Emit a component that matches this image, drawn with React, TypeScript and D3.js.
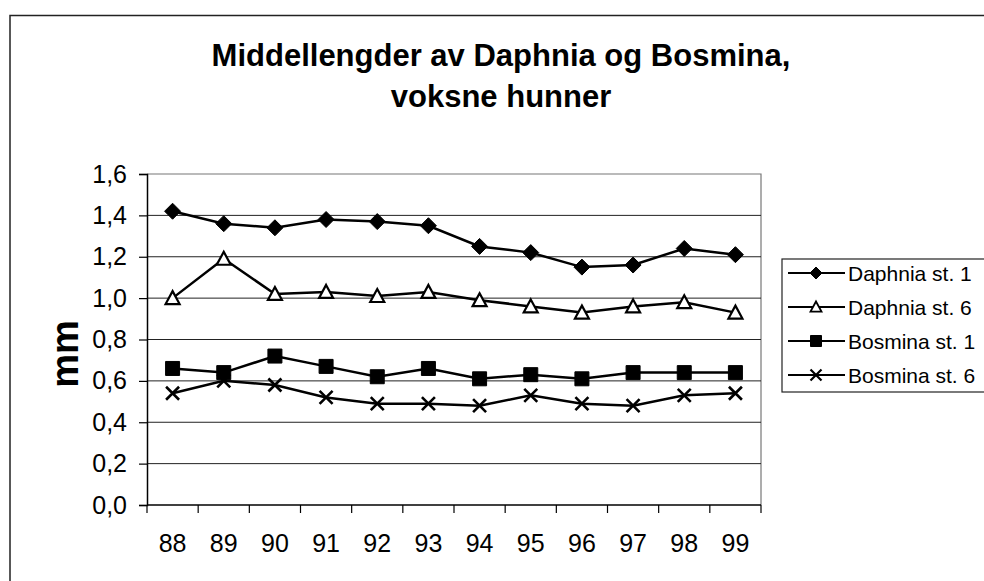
import { useEffect, useRef } from 'react';
import * as d3 from 'd3';

// Years on the x axis
const years = ['88', '89', '90', '91', '92', '93', '94', '95', '96', '97', '98', '99'];

// Series values (mm)
const daphnia1 = [1.42, 1.36, 1.34, 1.38, 1.37, 1.35, 1.25, 1.22, 1.15, 1.16, 1.24, 1.21];
const daphnia6 = [1.0, 1.19, 1.02, 1.03, 1.01, 1.03, 0.99, 0.96, 0.93, 0.96, 0.98, 0.93];
const bosmina1 = [0.66, 0.64, 0.72, 0.67, 0.62, 0.66, 0.61, 0.63, 0.61, 0.64, 0.64, 0.64];
const bosmina6 = [0.54, 0.6, 0.58, 0.52, 0.49, 0.49, 0.48, 0.53, 0.49, 0.48, 0.53, 0.54];

const seriesNames = ['Daphnia st. 1', 'Daphnia st. 6', 'Bosmina st. 1', 'Bosmina st. 6'];
const markerTypes = ['diamond', 'triangle', 'square', 'cross'];

const yTicks = [0, 0.2, 0.4, 0.6, 0.8, 1.0, 1.2, 1.4, 1.6];

const FONT = "'Liberation Sans', Arial, Helvetica, sans-serif";

// marker outline centred on 0,0
function markerPath(type: string, s: number) {
    const h = s / 2;
    if (type === 'diamond') return `M0,${-h}L${h},0L0,${h}L${-h},0Z`;
    if (type === 'square') return `M${-h},${-h}H${h}V${h}H${-h}Z`;
    if (type === 'triangle') return `M0,${-h}L${h},${h * 0.85}L${-h},${h * 0.85}Z`;
    return `M${-h},${-h}L${h},${h}M${h},${-h}L${-h},${h}`;
}

export default function App() {
    const svgRef = useRef<SVGSVGElement>(null);

    useEffect(() => {
        const W = 984;
        const H = 581;
        const svg = d3.select(svgRef.current);
        svg.selectAll('*').remove();
        svg.attr('width', W).attr('height', H).style('font-family', FONT);

        const allSeries = [daphnia1, daphnia6, bosmina1, bosmina6];

        const plot = { left: 147, right: 761, top: 174, bottom: 505 };

        const x = d3.scaleBand().domain(years).range([plot.left, plot.right]);
        const y = d3.scaleLinear().domain([0, 1.6]).range([plot.bottom, plot.top]);

        svg.append('rect').attr('width', W).attr('height', H).attr('fill', '#fff');

        // Outer chart frame
        svg.append('rect')
            .attr('x', 10)
            .attr('y', 15.5)
            .attr('width', 982)
            .attr('height', 600)
            .attr('fill', 'none')
            .attr('stroke', '#222')
            .attr('stroke-width', 1.5);

        // Title
        const title = svg.append('text')
            .attr('text-anchor', 'middle')
            .attr('font-size', 31)
            .attr('font-weight', 'bold')
            .attr('fill', '#000');
        title.append('tspan').attr('x', 501).attr('y', 66).text('Middellengder av Daphnia og Bosmina,');
        title.append('tspan').attr('x', 501).attr('y', 107).text('voksne hunner');

        // Plot area border (top and right)
        svg.append('path')
            .attr('d', `M${plot.left},${plot.top}H${plot.right}V${plot.bottom}`)
            .attr('fill', 'none')
            .attr('stroke', '#777')
            .attr('stroke-width', 1.2);

        // Gridlines
        svg.append('g')
            .selectAll('line')
            .data(yTicks.filter((t) => t > 0 && t < 1.6))
            .enter()
            .append('line')
            .attr('x1', plot.left)
            .attr('x2', plot.right)
            .attr('y1', (d) => y(d))
            .attr('y2', (d) => y(d))
            .attr('stroke', '#222')
            .attr('stroke-width', 1);

        // Y axis
        const yAxis = svg.append('g')
            .attr('transform', `translate(${plot.left},0)`)
            .call(
                d3.axisLeft(y)
                    .tickValues(yTicks)
                    .tickSize(8)
                    .tickPadding(12)
                    .tickFormat((d) => d3.format('.1f')(d as number).replace('.', ','))
            );
        yAxis.select('.domain').attr('stroke', '#000').attr('stroke-width', 1.5);
        yAxis.selectAll('.tick line').attr('stroke', '#000').attr('stroke-width', 1.2);
        yAxis.selectAll('.tick text')
            .attr('font-size', 25)
            .attr('font-family', FONT)
            .attr('fill', '#000');

        // X axis: ticks at band edges, labels at band centres
        const xAxis = svg.append('g');
        xAxis.append('line')
            .attr('x1', plot.left)
            .attr('x2', plot.right)
            .attr('y1', plot.bottom)
            .attr('y2', plot.bottom)
            .attr('stroke', '#000')
            .attr('stroke-width', 1.5);
        const edges = years.map((d) => x(d) as number).concat([plot.right]);
        xAxis.selectAll('.xt')
            .data(edges)
            .enter()
            .append('line')
            .attr('x1', (d) => d)
            .attr('x2', (d) => d)
            .attr('y1', plot.bottom)
            .attr('y2', plot.bottom + 8)
            .attr('stroke', '#000')
            .attr('stroke-width', 1.2);
        xAxis.selectAll('.xl')
            .data(years)
            .enter()
            .append('text')
            .attr('x', (d) => (x(d) as number) + x.bandwidth() / 2)
            .attr('y', 552)
            .attr('text-anchor', 'middle')
            .attr('font-size', 25)
            .attr('fill', '#000')
            .text((d) => d);

        // Y axis label
        svg.append('text')
            .attr('transform', 'translate(78,354) rotate(-90)')
            .attr('text-anchor', 'middle')
            .attr('font-size', 38)
            .attr('font-weight', 'bold')
            .attr('fill', '#000')
            .text('mm');

        // Lines and markers
        const line = d3.line<number>()
            .x((_, i) => (x(years[i]) as number) + x.bandwidth() / 2)
            .y((d) => y(d));

        allSeries.forEach((values, si) => {
            const type = markerTypes[si];
            svg.append('path')
                .attr('d', line(values))
                .attr('fill', 'none')
                .attr('stroke', '#000')
                .attr('stroke-width', 2.5);

            svg.append('g')
                .selectAll('path')
                .data(values)
                .enter()
                .append('path')
                .attr('transform', (d, i) => `translate(${(x(years[i]) as number) + x.bandwidth() / 2},${y(d)})`)
                .attr('d', markerPath(type, type === 'diamond' ? 16 : type === 'cross' ? 13 : 14))
                .attr('fill', type === 'triangle' ? '#fff' : type === 'cross' ? 'none' : '#000')
                .attr('stroke', '#000')
                .attr('stroke-width', type === 'cross' ? 2.6 : type === 'triangle' ? 2.2 : 1);
        });

        // Legend
        const legend = svg.append('g');
        legend.append('rect')
            .attr('x', 782)
            .attr('y', 259)
            .attr('width', 206)
            .attr('height', 133)
            .attr('fill', '#fff')
            .attr('stroke', '#222')
            .attr('stroke-width', 1.2);

        const rowY = d3.scalePoint().domain(seriesNames).range([273, 375]);

        seriesNames.forEach((name, i) => {
            const type = markerTypes[i];
            const ry = rowY(name) as number;
            const row = legend.append('g').attr('transform', `translate(0,${ry})`);
            row.append('line')
                .attr('x1', 788)
                .attr('x2', 845)
                .attr('stroke', '#000')
                .attr('stroke-width', 2.2);
            row.append('path')
                .attr('transform', 'translate(816,0)')
                .attr('d', markerPath(type, type === 'diamond' ? 12 : 11))
                .attr('fill', type === 'triangle' ? '#fff' : type === 'cross' ? 'none' : '#000')
                .attr('stroke', '#000')
                .attr('stroke-width', type === 'cross' ? 2.2 : type === 'triangle' ? 1.8 : 1);
            row.append('text')
                .attr('x', 848)
                .attr('y', 7.5)
                .attr('font-size', 21)
                .attr('fill', '#000')
                .text(name);
        });
    }, []);

    return (
        <div style={{ position: 'absolute', left: 0, top: 0 }}>
            <svg ref={svgRef}></svg>
        </div>
    );
}
